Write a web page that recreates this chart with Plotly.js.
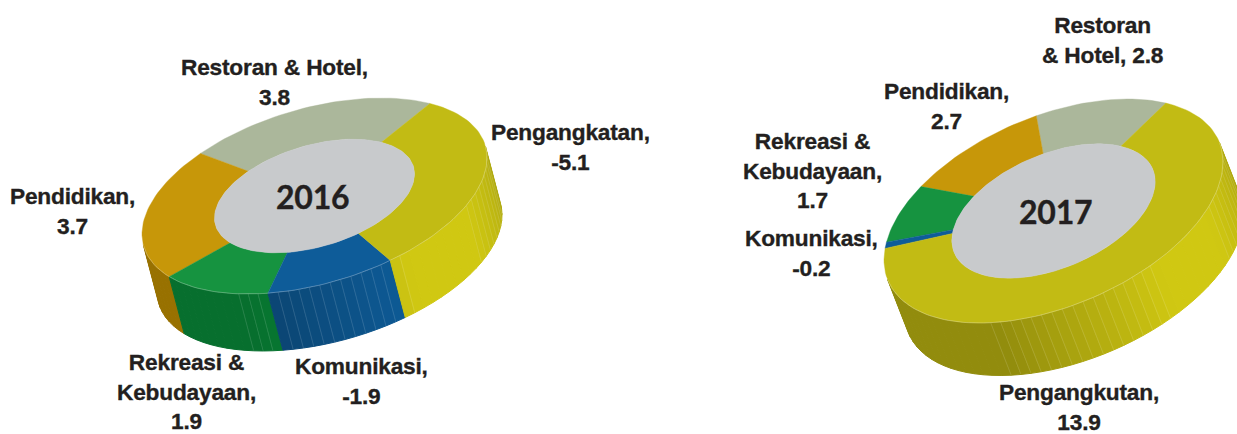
<!DOCTYPE html>
<html>
<head>
<meta charset="utf-8">
<script src="https://cdn.plot.ly/plotly-3.0.1.min.js"></script>
<style>
html,body{margin:0;padding:0;background:#fff;overflow:hidden}
.annotation-text{letter-spacing:-0.2px;stroke:#231f20;stroke-width:0.35px}
</style>
</head>
<body>
<div id="chart" style="width:1237px;height:434px"></div>
<script>
// ---- data (listed counter-clockwise from the first boundary)
var categories2016 = ['Restoran & Hotel', 'Pendidikan', 'Rekreasi & Kebudayaan', 'Komunikasi', 'Pengangkatan'];
var values2016 = [3.8, 3.7, 1.9, -1.9, -5.1];
var labels2016 = ['Restoran & Hotel,<br>3.8', 'Pendidikan,<br>3.7', 'Rekreasi &<br>Kebudayaan,<br>1.9', 'Komunikasi,<br>-1.9', 'Pengangkatan,<br>-5.1'];
var categories2017 = ['Restoran & Hotel', 'Pendidikan', 'Rekreasi & Kebudayaan', 'Komunikasi', 'Pengangkutan'];
var values2017 = [2.8, 2.7, 1.7, -0.2, 13.9];
var labels2017 = ['Restoran<br>& Hotel, 2.8', 'Pendidikan,<br>2.7', 'Rekreasi &<br>Kebudayaan,<br>1.7', 'Komunikasi,<br>-0.2', 'Pengangkutan,<br>13.9'];

// ---- styles and layout
var topColors  = ['#abb79b', '#c79709', '#169340', '#0e5c99', '#c2bb14'];
var sideColors = ['#abb79b', '#d9a100', '#0a9e41', '#0e5d9a', '#d0c812'];
var holeColor = '#c8cacc', textColor = '#231f20';
var labelPos2016 = [[274, 82], [72, 211], [186, 391], [361, 381], [570, 147]];
var labelPos2017 = [[1102, 40], [946, 106], [812, 170], [811, 253], [1079, 407]];
var geom2016 = {cx: 314.5, cy: 196, u: [172.5, -38], v: [0, -90.3], e: [15, 57], hole: 0.58, start: 48, year: '2016', yx: 312, yy: 196};
var geom2017 = {cx: 1053.5, cy: 211, u: [169.5, -49], v: [0, -100.7], e: [20.5, 52.5], hole: 0.6, start: 48.5, year: '2017', yx: 1055, yy: 211};

var D = Math.PI / 180;
function pt(g, t, r, ex) {
  var c = Math.cos(t * D), s = Math.sin(t * D);
  return [g.cx + r * (g.u[0] * c + g.v[0] * s) + (ex ? g.e[0] : 0),
          g.cy + r * (g.u[1] * c + g.v[1] * s) + (ex ? g.e[1] : 0)];
}
function shade(s) {
  if (s < 0.32) return 0.7;
  if (s < 0.64) return 0.7 + (s - 0.32) / 0.32 * 0.3;
  if (s < 0.79) return 1;
  return 1 - (s - 0.79) / 0.21 * 0.16;
}
function darken(hex, k) {
  var n = parseInt(hex.slice(1), 16);
  return 'rgb(' + Math.round((n >> 16) * k) + ',' + Math.round(((n >> 8) & 255) * k) + ',' + Math.round((n & 255) * k) + ')';
}
function poly(xs, ys, color, name, lw) {
  return {type: 'scatter', mode: 'lines', x: xs, y: ys, fill: 'toself', fillcolor: color, name: name,
          line: {color: color, width: lw}, hoverinfo: 'name', showlegend: false};
}
function donut(g, cats, vals, traces) {
  var total = vals.reduce(function (a, v) { return a + Math.abs(v); }, 0);
  // visible part of the outer wall
  var A = g.u[0] * g.e[1] - g.u[1] * g.e[0], B = g.v[0] * g.e[1] - g.v[1] * g.e[0];
  var tc = -Math.atan2(A, B) / D;
  while (tc < 180) tc += 360;
  var t0 = tc - 90, t1 = tc + 90;
  var spans = [], a = g.start;
  vals.forEach(function (v) { var w = Math.abs(v) / total * 360; spans.push([a, a + w]); a += w; });
  // wall: slices may be visible at t or t+360
  var seams = {x: [], y: []};
  spans.forEach(function (sp, i) {
    [0, 360].forEach(function (off) {
      var a0 = Math.max(sp[0] + off, t0), a1 = Math.min(sp[1] + off, t1);
      if (a1 <= a0) return;
      var stepN = Math.max(1, Math.round((a1 - a0) / 3.5));
      for (var k = 0; k < stepN; k++) {
        var f0 = a0 + (a1 - a0) * k / stepN, f1 = a0 + (a1 - a0) * (k + 1) / stepN;
        var xs = [], ys = [], q, p;
        for (q = 0; q <= 3; q++) { p = pt(g, f0 + (f1 - f0) * q / 3, 1, false); xs.push(p[0]); ys.push(p[1]); }
        for (q = 3; q >= 0; q--) { p = pt(g, f0 + (f1 - f0) * q / 3, 1, true); xs.push(p[0]); ys.push(p[1]); }
        xs.push(xs[0]); ys.push(ys[0]);
        var s = ((f0 + f1) / 2 - t0) / 180;
        traces.push(poly(xs, ys, darken(sideColors[i], shade(s)), cats[i], 1));
      }
    });
  });
  // facet seams drawn above all wall facets
  spans.forEach(function (sp) {
    [0, 360].forEach(function (off) {
      var a0 = Math.max(sp[0] + off, t0), a1 = Math.min(sp[1] + off, t1);
      if (a1 <= a0) return;
      var stepN = Math.max(1, Math.round((a1 - a0) / 3.5));
      for (var k = 1; k < stepN; k++) {
        var f0 = a0 + (a1 - a0) * k / stepN, sf = (f0 - t0) / 180;
        if ((sf > 0.3 && sf < 0.64) || (sf > 0.79 && sf < 0.97)) {
          var p1 = pt(g, f0, 1, false), p2 = pt(g, f0, 1, true);
          seams.x.push(p1[0], p2[0], null); seams.y.push(p1[1], p2[1], null);
        }
      }
    });
  });
  traces.push({type: 'scatter', mode: 'lines', x: seams.x, y: seams.y, hoverinfo: 'skip', showlegend: false,
               line: {color: 'rgba(255,255,255,0.22)', width: 0.6}});
  // top ring
  spans.forEach(function (sp, i) {
    var xs = [], ys = [], n = Math.max(4, Math.ceil((sp[1] - sp[0]) / 2)), q, p;
    for (q = 0; q <= n; q++) { p = pt(g, sp[0] + (sp[1] - sp[0]) * q / n, 1, false); xs.push(p[0]); ys.push(p[1]); }
    for (q = n; q >= 0; q--) { p = pt(g, sp[0] + (sp[1] - sp[0]) * q / n, g.hole, false); xs.push(p[0]); ys.push(p[1]); }
    xs.push(xs[0]); ys.push(ys[0]);
    traces.push(poly(xs, ys, topColors[i], cats[i], 0.4));
  });
  // rim highlight and hole
  var rx = [], ry = [], hx = [], hy = [], t, p;
  for (t = t0; t <= t1; t += 2) { p = pt(g, t, 1, false); rx.push(p[0]); ry.push(p[1]); }
  traces.push({type: 'scatter', mode: 'lines', x: rx, y: ry, hoverinfo: 'skip', showlegend: false,
               line: {color: 'rgba(255,255,255,0.4)', width: 0.7}});
  for (t = 0; t <= 360; t += 2) { p = pt(g, t, g.hole, false); hx.push(p[0]); hy.push(p[1]); }
  traces.push(poly(hx, hy, holeColor, g.year, 0.4));
}
var traces = [], annotations = [];
donut(geom2016, categories2016, values2016, traces);
donut(geom2017, categories2017, values2017, traces);
function addLabels(labels, pos) {
  labels.forEach(function (l, i) {
    annotations.push({text: l, x: pos[i][0], y: pos[i][1], xref: 'x', yref: 'y', showarrow: false,
      xanchor: 'center', yanchor: 'middle', align: 'center',
      font: {family: 'Liberation Sans, Arial, sans-serif', size: 22.7, weight: 700, color: textColor}});
  });
}
addLabels(labels2016, labelPos2016);
addLabels(labels2017, labelPos2017);
[geom2016, geom2017].forEach(function (g) {
  annotations.push({text: g.year, x: g.yx, y: g.yy, xref: 'x', yref: 'y', showarrow: false,
    xanchor: 'center', yanchor: 'middle',
    font: {family: 'Lato, sans-serif', size: 32, weight: 700, color: textColor}});
});
Plotly.newPlot('chart', traces, {
  width: 1237, height: 434, margin: {l: 0, r: 0, t: 0, b: 0},
  paper_bgcolor: '#ffffff', plot_bgcolor: '#ffffff', showlegend: false,
  xaxis: {range: [0, 1237], visible: false, fixedrange: true},
  yaxis: {range: [434, 0], visible: false, fixedrange: true},
  annotations: annotations
}, {displayModeBar: false});
</script>
</body>
</html>
